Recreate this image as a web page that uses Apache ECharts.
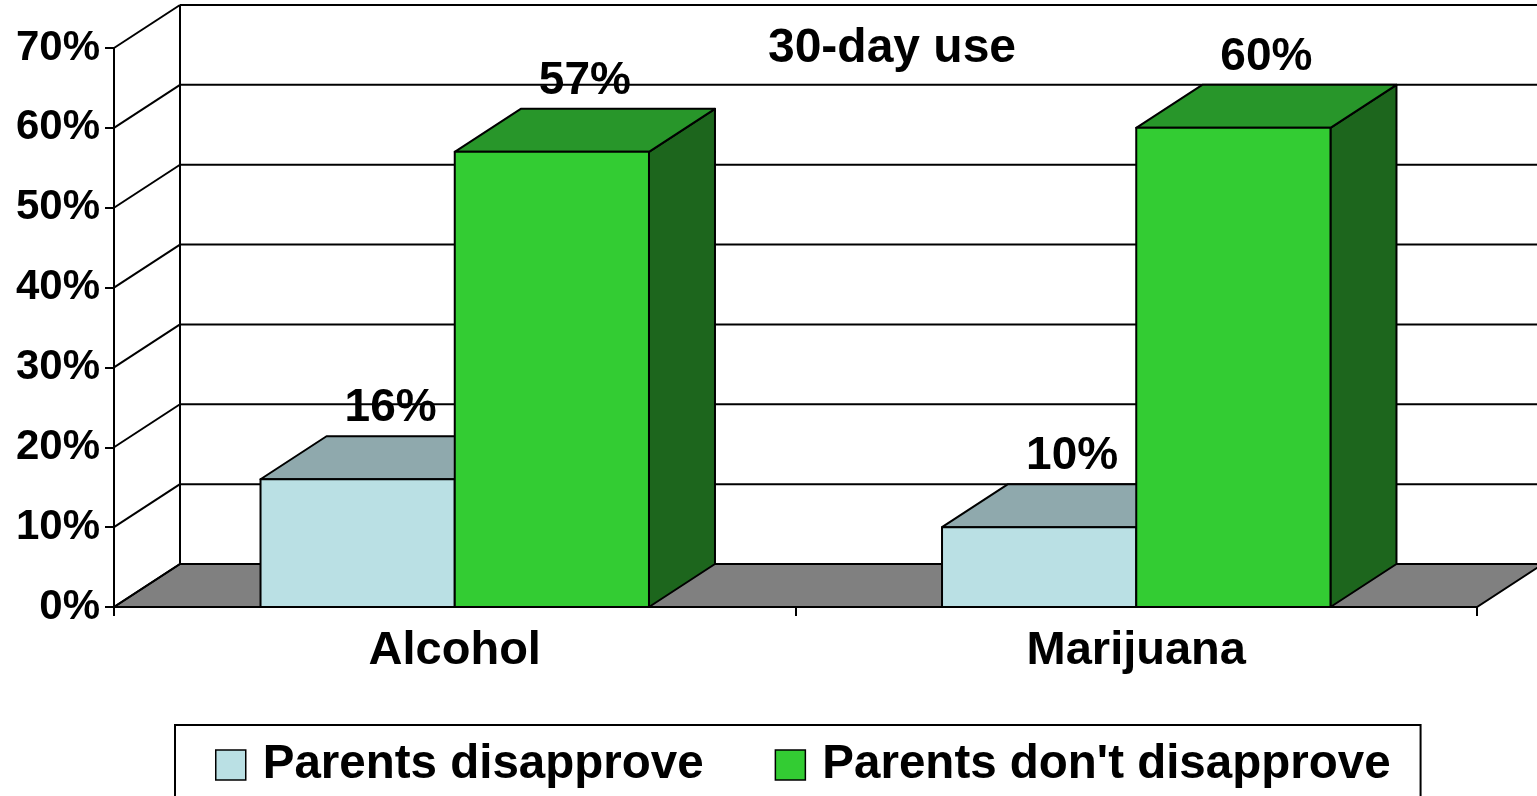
<!DOCTYPE html>
<html>
<head>
<meta charset="utf-8">
<script src="https://cdn.jsdelivr.net/npm/echarts@6/dist/echarts.min.js"></script>
<style>
html,body{margin:0;padding:0;background:#fff;}
#main{width:1537px;height:796px;}
</style>
</head>
<body>
<div id="main"></div>
<script>
// ---- data ----
const categories = ['Alcohol', 'Marijuana'];
const seriesNames = ['Parents disapprove', "Parents don't disapprove"];
const disapprove = [16, 10];
const dontDisapprove = [57, 60];
const yTicks = [0, 10, 20, 30, 40, 50, 60, 70];
const titleText = '30-day use';

// ---- style constants ----
const FONT = 'Liberation Sans, Arial, sans-serif';
const DX = 66, DY = 43;           // 3D depth offset
const BAR_FRAC = 0.285;           // bar width as fraction of category band
const colors = [
  {front: '#BAE0E4', top: '#8FA9AD', side: '#6E8B8F'},
  {front: '#33CC33', top: '#28962A', side: '#1D661D'}
];

const chart = echarts.init(document.getElementById('main'), null, {renderer: 'canvas'});

function wallRender(params, api) {
  const cs = params.coordSys;
  const v = api.value(0);
  const y = api.coord([0, v])[1];
  const x0 = cs.x, x1 = cs.x + cs.width;
  const line = {stroke: '#000', lineWidth: 2};
  const children = [];
  if (params.dataIndex === 0) {
    const yb = cs.y + cs.height;
    children.push({
      type: 'polygon',
      shape: {points: [[x0, yb], [x1, yb], [x1 + DX, yb - DY], [x0 + DX, yb - DY]]},
      style: {fill: '#808080', stroke: '#000', lineWidth: 2}
    });
    children.push({
      type: 'line',
      shape: {x1: x0 + DX, y1: yb - DY, x2: x0 + DX, y2: cs.y - DY},
      style: line
    });
  }
  children.push({type: 'line', shape: {x1: x0, y1: y, x2: x0 + DX, y2: y - DY}, style: line});
  children.push({type: 'line', shape: {x1: x0 + DX, y1: y - DY, x2: x1 + DX, y2: y - DY}, style: line});
  return {type: 'group', children: children};
}

function barRender(si) {
  return function (params, api) {
    const cat = api.value(0), val = api.value(1);
    const top = api.coord([cat, val]);
    const base = api.coord([cat, 0]);
    const band = api.size([1, 0])[0];
    const w = band * BAR_FRAC;
    const xa = si === 0 ? top[0] - w : top[0];
    const xb = xa + w;
    const yt = top[1], yb = base[1];
    const c = colors[si];
    const st = {stroke: '#000', lineWidth: 2, lineJoin: 'round'};
    return {
      type: 'group',
      children: [
        {type: 'polygon', shape: {points: [[xb, yt], [xb + DX, yt - DY], [xb + DX, yb - DY], [xb, yb]]},
         style: Object.assign({fill: c.side}, st)},
        {type: 'polygon', shape: {points: [[xa, yt], [xa + DX, yt - DY], [xb + DX, yt - DY], [xb, yt]]},
         style: Object.assign({fill: c.top}, st)},
        {type: 'rect', shape: {x: xa, y: yt, width: w, height: yb - yt},
         style: Object.assign({fill: c.front}, st)},
        {type: 'text', x: (xa + xb) / 2 + DX / 2, y: yt - DY - 5,
         style: {text: val + '%', fill: '#000', font: 'bold 46px ' + FONT,
                 textAlign: 'center', textVerticalAlign: 'bottom'}}
      ]
    };
  };
}

const option = {
  animation: false,
  backgroundColor: '#fff',
  graphic: [{
    type: 'text', x: 892, y: 49, z: 10,
    style: {text: titleText, font: 'bold 48px ' + FONT, fill: '#000',
            textAlign: 'center', textVerticalAlign: 'middle'}
  }],
  grid: {left: 114, top: 48, width: 1363, height: 559, containLabel: false},
  xAxis: {
    type: 'category', data: categories,
    axisLine: {show: true, lineStyle: {color: '#000', width: 2}},
    axisTick: {show: true, length: 9, lineStyle: {color: '#000', width: 2}},
    axisLabel: {color: '#000', fontSize: 47, fontWeight: 'bold', fontFamily: FONT, margin: 21},
    splitLine: {show: false}
  },
  yAxis: {
    type: 'value', min: 0, max: 70, interval: 10,
    axisLine: {show: true, lineStyle: {color: '#000', width: 2}},
    axisTick: {show: true, length: 9, lineStyle: {color: '#000', width: 2}},
    axisLabel: {color: '#000', fontSize: 42, fontWeight: 'bold', fontFamily: FONT, margin: 14,
                formatter: '{value}%'},
    splitLine: {show: false}
  },
  legend: {
    left: 175, top: 725,
    data: seriesNames,
    orient: 'horizontal',
    icon: 'rect', itemWidth: 30, itemHeight: 30, itemGap: 71,
    padding: [16, 30, 40, 40],
    borderColor: '#000', borderWidth: 2, borderRadius: 0,
    itemStyle: {borderColor: '#000', borderWidth: 1.5},
    textStyle: {color: '#000', fontSize: 47.5, fontWeight: 'bold', fontFamily: FONT, padding: [0, 0, 0, 12]},
    selectedMode: false
  },
  series: [
    {
      type: 'custom', name: 'walls', clip: false, silent: true, z: 1,
      data: yTicks.map(v => [v]),
      renderItem: wallRender
    },
    {
      type: 'custom', name: seriesNames[0], clip: false, z: 2,
      itemStyle: {color: colors[0].front},
      data: disapprove.map((v, i) => [i, v]),
      renderItem: barRender(0)
    },
    {
      type: 'custom', name: seriesNames[1], clip: false, z: 2,
      itemStyle: {color: colors[1].front},
      data: dontDisapprove.map((v, i) => [i, v]),
      renderItem: barRender(1)
    }
  ]
};
chart.setOption(option);
</script>
</body>
</html>
